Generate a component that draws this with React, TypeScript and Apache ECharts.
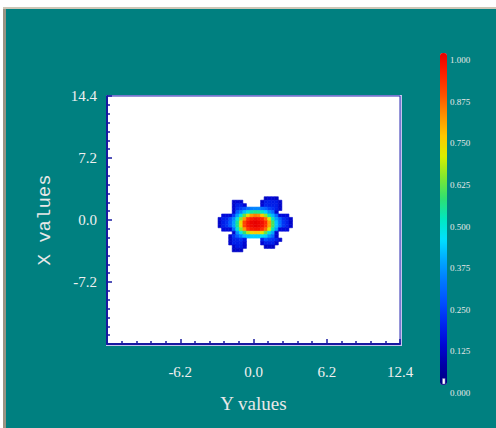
import React, { useEffect, useRef } from "react";
import * as echarts from "echarts";

// grid cell centres of the sampled field (x and y in axis units)
const CELL_X = [-2.85, -2.55, -2.25, -1.95, -1.65, -1.35, -1.05, -0.75, -0.45, -0.15, 0.15, 0.45, 0.75, 1.05, 1.35, 1.65, 1.95, 2.25, 2.55, 2.85, 3.15];
const CELL_Y = [2.5, 2.1, 1.7, 1.3, 0.9, 0.5, 0.1, -0.3, -0.7, -1.1, -1.5, -1.9, -2.3, -2.7, -3.1, -3.5];
const CELL_W = 0.3;
const CELL_H = 0.4;
const n = null;
// field values (rows top to bottom, columns left to right)
const FIELD: (number | null)[][] = [
  [n, n, n, n, n, n, n, n, n, n, n, n, n, 0.1, 0.12, 0.12, 0.1, n, n, n, n],
  [n, n, n, n, 0.11, 0.12, 0.11, n, n, n, n, n, 0.11, 0.16, 0.17, 0.16, 0.16, 0.11, n, n, n],
  [n, n, n, n, 0.11, 0.17, 0.17, 0.12, n, n, n, n, 0.12, 0.18, 0.17, 0.17, 0.17, 0.11, n, n, n],
  [n, n, n, n, 0.11, 0.19, 0.22, 0.26, 0.3, 0.32, 0.33, 0.33, 0.31, 0.28, 0.23, 0.2, 0.17, 0.11, n, n, n],
  [n, n, n, n, 0.11, 0.27, 0.33, 0.4, 0.47, 0.52, 0.54, 0.53, 0.49, 0.42, 0.35, 0.29, 0.11, n, n, n, n],
  [n, 0.13, 0.13, 0.13, 0.22, 0.36, 0.47, 0.6, 0.72, 0.8, 0.83, 0.82, 0.75, 0.64, 0.51, 0.39, 0.3, 0.13, 0.13, 0.13, n],
  [0.11, 0.17, 0.18, 0.25, 0.34, 0.47, 0.63, 0.8, 0.91, 0.95, 0.97, 0.96, 0.93, 0.85, 0.69, 0.51, 0.37, 0.28, 0.2, 0.17, 0.11],
  [0.11, 0.17, 0.2, 0.27, 0.37, 0.53, 0.72, 0.89, 0.96, 0.99, 1.0, 0.99, 0.97, 0.92, 0.79, 0.58, 0.41, 0.3, 0.21, 0.17, 0.11],
  [0.11, 0.17, 0.2, 0.27, 0.37, 0.53, 0.72, 0.89, 0.96, 0.98, 1.0, 0.99, 0.97, 0.91, 0.79, 0.58, 0.41, 0.3, 0.21, 0.17, 0.11],
  [n, 0.13, 0.13, 0.13, 0.3, 0.47, 0.63, 0.8, 0.91, 0.95, 0.96, 0.96, 0.92, 0.85, 0.69, 0.51, 0.37, 0.13, 0.13, 0.13, n],
  [n, n, n, n, 0.11, 0.34, 0.45, 0.56, 0.66, 0.72, 0.74, 0.74, 0.7, 0.6, 0.48, 0.37, 0.11, n, n, n, n],
  [n, n, n, 0.11, 0.2, 0.27, 0.33, 0.4, 0.4, 0.42, 0.42, 0.42, 0.45, 0.42, 0.35, 0.29, 0.11, n, n, n, n],
  [n, n, n, 0.11, 0.17, 0.18, 0.2, 0.15, n, n, n, n, 0.18, 0.25, 0.22, 0.2, 0.17, 0.11, n, n, n],
  [n, n, n, 0.11, 0.17, 0.17, 0.17, 0.12, n, n, n, n, 0.12, 0.17, 0.17, 0.17, 0.11, n, n, n, n],
  [n, n, n, n, 0.11, 0.16, 0.16, 0.11, n, n, n, n, n, 0.1, 0.11, 0.1, n, n, n, n, n],
  [n, n, n, n, 0.1, 0.11, 0.1, n, n, n, n, n, n, n, n, n, n, n, n, n, n],
];

const X_RANGE = [-12.4, 12.4];
const X_STEP = 6.2;
const Y_RANGE = [-14.4, 14.4];
const Y_STEP = 7.2;
const SCALE_RANGE = [0, 1];
const SCALE_STEP = 0.125;
const COLORS = [
  "#000080", "#0000a8", "#0008d8", "#0028f0", "#0050ff", "#0078ff", "#00a8ff", "#00e0ff",
  "#00e8c0", "#30e070", "#80e830", "#d8f000", "#ffc800", "#ff9000", "#ff5000", "#ff2000", "#e80000",
];

const LABEL = "#f0f0f0";
const TICK = "#1818a0";
const FONT = "Liberation Serif";

export default function App() {
  const ref = useRef<HTMLDivElement>(null);
  useEffect(() => {
    if (!ref.current) return;
    const chart = echarts.init(ref.current, null, { renderer: "svg" });
    const data: number[][] = [];
    FIELD.forEach((row, r) =>
      row.forEach((v, c) => {
        if (v !== null) data.push([CELL_X[c], CELL_Y[r], v]);
      })
    );
    chart.setOption({
      animation: false,
      grid: [
        { left: 107, right: 96, top: 96, bottom: 84, show: true, backgroundColor: "#ffffff", borderColor: "#2a2ab0", borderWidth: 1 },
        { left: 440, width: 7, top: 60, height: 333, show: false },
      ],
      xAxis: [
        {
          type: "value", gridIndex: 0, min: X_RANGE[0], max: X_RANGE[1], interval: X_STEP,
          name: "Y values", nameLocation: "middle", nameGap: 50,
          nameTextStyle: { color: "#e8e8e8", fontSize: 19, fontFamily: FONT },
          axisLine: { show: true, onZero: false, lineStyle: { color: TICK, width: 2 } },
          axisTick: { show: true, inside: true, length: 5, lineStyle: { color: TICK, width: 1.5 } },
          minorTick: { show: true, splitNumber: 5, length: 3, lineStyle: { color: TICK, width: 1.5 } },
          splitLine: { show: false },
          axisLabel: { showMinLabel: false, color: LABEL, fontSize: 15, fontFamily: FONT, margin: 20, formatter: (v: number) => v.toFixed(1) },
        },
        { type: "value", gridIndex: 1, show: false, min: 0, max: 1 },
      ],
      yAxis: [
        {
          type: "value", gridIndex: 0, min: Y_RANGE[0], max: Y_RANGE[1], interval: Y_STEP,
          name: "X values", nameLocation: "middle", nameGap: 53, nameRotate: 90,
          nameTextStyle: { color: "#e8e8e8", fontSize: 19, fontFamily: "Liberation Mono" },
          axisLine: { show: true, onZero: false, lineStyle: { color: TICK, width: 2 } },
          axisTick: { show: true, inside: true, length: 5, lineStyle: { color: TICK, width: 1.5 } },
          minorTick: { show: true, splitNumber: 7, length: 3, lineStyle: { color: TICK, width: 1.5 } },
          splitLine: { show: false },
          axisLabel: { showMinLabel: false, color: LABEL, fontSize: 15, fontFamily: FONT, margin: 10, formatter: (v: number) => v.toFixed(1) },
        },
        {
          type: "value", gridIndex: 1, min: SCALE_RANGE[0], max: SCALE_RANGE[1], interval: SCALE_STEP, position: "right",
          axisLine: { show: false }, axisTick: { show: false }, splitLine: { show: false },
          axisLabel: { color: "#e8e8e8", fontSize: 9, fontFamily: FONT, margin: 3, formatter: (v: number) => v.toFixed(3) },
        },
      ],
      visualMap: {
        type: "continuous", min: SCALE_RANGE[0], max: SCALE_RANGE[1], seriesIndex: 0, dimension: 2,
        left: 440, top: 53, itemWidth: 7, itemHeight: 332, padding: 0, calculable: false, hoverLink: false,
        inRange: { color: COLORS },
      },
      graphic: [
        { type: "rect", left: 442, top: 378, shape: { width: 3, height: 6 }, style: { fill: "#ffffff", stroke: "#000080", lineWidth: 0.5 }, z: 100 },
      ],
      series: [
        {
          type: "custom", xAxisIndex: 0, yAxisIndex: 0, clip: true, data,
          renderItem: (params: any, api: any) => {
            const x = api.value(0);
            const y = api.value(1);
            const p0 = api.coord([x - CELL_W / 2, y + CELL_H / 2]);
            const p1 = api.coord([x + CELL_W / 2, y - CELL_H / 2]);
            const c = api.visual("color");
            return {
              type: "rect",
              shape: { x: p0[0], y: p0[1], width: p1[0] - p0[0], height: p1[1] - p0[1] },
              style: { fill: c, stroke: c, lineWidth: 0.6 },
            };
          },
        },
      ],
    });
    return () => chart.dispose();
  }, []);

  return (
    <div style={{ position: "fixed", left: 0, top: 0, width: 496, height: 428, background: "#ffffff", overflow: "hidden" }}>
      <div style={{ position: "absolute", left: 3, top: 7, width: 493, height: 421, background: "#cdc6b6" }} />
      <div style={{ position: "absolute", left: 3, top: 9, width: 3, height: 419, background: "#9a9484" }} />
      <div style={{ position: "absolute", left: 6, top: 9, width: 490, height: 419, background: "#008080" }} />
      <div style={{ position: "absolute", left: 106, top: 95, width: 296, height: 251, background: "#c4c4ee" }} />
      <div ref={ref} style={{ position: "absolute", left: 0, top: 0, width: 496, height: 428 }} />
    </div>
  );
}
